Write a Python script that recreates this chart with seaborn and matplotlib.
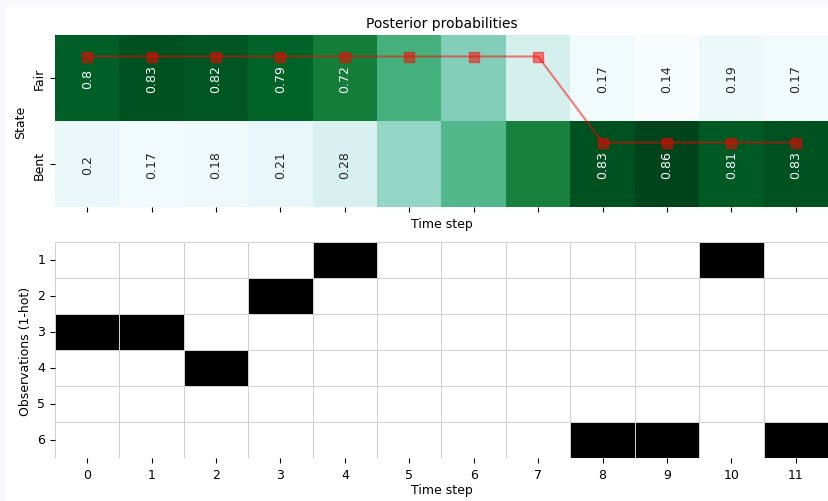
import numpy as np
import pandas as pd
import matplotlib
matplotlib.use('Agg')
import matplotlib.pyplot as plt
import seaborn as sns
from matplotlib.patches import Rectangle

states = ['Fair', 'Bent']
time_steps = list(range(12))
p_fair = [0.8, 0.83, 0.82, 0.79, 0.72, 0.58, 0.45, 0.29, 0.17, 0.14, 0.19, 0.17]
p_bent = [0.2, 0.17, 0.18, 0.21, 0.28, 0.42, 0.55, 0.71, 0.83, 0.86, 0.81, 0.83]
shown = [True, True, True, True, True, False, False, False, True, True, True, True]
best_path = [0, 0, 0, 0, 0, 0, 0, 0, 1, 1, 1, 1]
observations = [3, 3, 4, 2, 1, None, None, None, 6, 6, 1, 6]
faces = [1, 2, 3, 4, 5, 6]

plt.rcParams['font.size'] = 9

post = pd.DataFrame([p_fair, p_bent], index=states, columns=time_steps)
labels = np.array([[f'{v:.2g}' if s else '' for v, s in zip(row, shown)]
                   for row in [p_fair, p_bent]])

onehot = pd.DataFrame(0, index=faces, columns=time_steps)
for t, o in enumerate(observations):
    if o is not None:
        onehot.loc[o, t] = 1

fig = plt.figure(figsize=(8.29, 5.02), dpi=100)
fig.patch.set_facecolor('#f8f8fd')
fig.patches.append(Rectangle((6 / 829, 0), 1, 1 - 7 / 502, transform=fig.transFigure,
                             facecolor='white', edgecolor='none', zorder=-10))

ax1 = fig.add_axes([55 / 829, 1 - 208 / 502, 773 / 829, 172 / 502])
ax2 = fig.add_axes([55 / 829, 1 - 459 / 502, 773 / 829, 216 / 502])

sns.heatmap(post, ax=ax1, cmap='BuGn', annot=labels, fmt='', cbar=False,
            annot_kws={'rotation': 90, 'fontsize': 9})
ax1.plot(np.array(time_steps) + 0.5, np.array(best_path) + 0.25, marker='s',
         color='red', alpha=0.5, markersize=7, linewidth=1.5)
ax1.set_title('Posterior probabilities', fontsize=10)
ax1.set_xticklabels([])
ax1.set_xlabel('Time step', fontsize=9, labelpad=0)
ax1.set_ylabel('State', fontsize=9)
ax1.set_yticklabels(states, rotation=90, va='center')

sns.heatmap(onehot, ax=ax2, cmap='Greys', cbar=False, linewidths=0.5,
            linecolor='#d0d0d0')
ax2.set_xlabel('Time step', fontsize=9, labelpad=2)
ax2.set_ylabel('Observations (1-hot)', fontsize=9)
ax2.set_yticklabels(faces, rotation=0)

fig.savefig('out.png', dpi=100, facecolor=fig.get_facecolor())
